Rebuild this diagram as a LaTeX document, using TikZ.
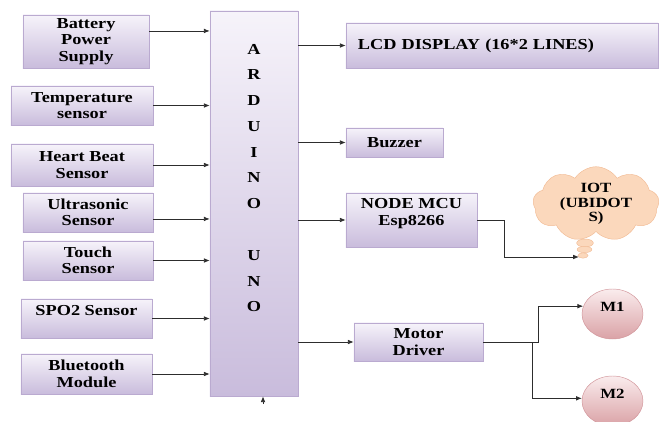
\documentclass[tikz,border=0pt]{standalone}
\usepackage{fontspec}
\setmainfont{Liberation Serif}[FakeStretch=1.2]
\usepackage{tikz}
\usetikzlibrary{shapes.geometric, shapes.symbols, arrows.meta, shadows}
\definecolor{boxtop}{RGB}{246,243,250}
\definecolor{boxbot}{RGB}{201,188,220}
\definecolor{boxline}{RGB}{186,170,208}
\definecolor{motortop}{RGB}{250,236,237}
\definecolor{motorbot}{RGB}{218,162,166}
\definecolor{motorline}{RGB}{210,150,155}
\definecolor{cloudfill}{RGB}{251,216,188}
\definecolor{cloudline}{RGB}{242,188,150}
\definecolor{wire}{RGB}{45,45,45}

\begin{document}
\begin{tikzpicture}[x=0.03cm, y=-0.03cm,
  blk/.style={draw=boxline, top color=boxtop, bottom color=boxbot, align=center, inner sep=1pt,
    font=\fontsize{13}{14}\selectfont\bfseries,
    drop shadow={shadow xshift=1.2pt, shadow yshift=-1.2pt, fill=black!30}},
  motor/.style={ellipse, draw=motorline, top color=motortop, bottom color=motorbot, inner sep=0pt,
    minimum width=1.83cm, minimum height=1.5cm, align=center, font=\fontsize{12}{13}\selectfont\bfseries},
  puff/.style={ellipse, draw=cloudline, fill=cloudfill, inner sep=0pt},
  arr/.style={draw=wire, line width=0.7pt, -{Latex[length=5pt,width=4pt]}}]
\useasboundingbox (0,0) rectangle (659,422);

\node[blk, minimum width=3.78cm, minimum height=1.59cm] (bat) at (86,41.5) {Battery\\Power\\Supply};
\node[blk, minimum width=4.26cm, minimum height=1.17cm] (temp) at (82,105.5) {Temperature\\sensor};
\node[blk, minimum width=4.26cm, minimum height=1.26cm] (heart) at (82,165) {Heart Beat\\Sensor};
\node[blk, minimum width=3.9cm, minimum height=1.17cm] (ultra) at (88,212.5) {Ultrasonic\\Sensor};
\node[blk, minimum width=3.9cm, minimum height=1.17cm] (touch) at (88,260.5) {Touch\\Sensor};
\node[blk, minimum width=3.93cm, minimum height=1.17cm] (spo) at (86.5,318.5) {SPO2 Sensor\\\mbox{}};
\node[blk, minimum width=3.93cm, minimum height=1.2cm] (blue) at (86.5,374) {Bluetooth\\Module};

\node[blk, minimum width=2.64cm, minimum height=11.55cm] (ard) at (254,203.5) {};
\node[font=\fontsize{13}{22}\selectfont\bfseries, align=center] (ardtxt) at (254,178)
  {A\\R\\D\\U\\I\\N\\O\\[22pt]U\\N\\O};

\node[blk, minimum height=1.35cm, text width=8.64cm, inner xsep=0.36cm, align=left] (lcd) at (502,45.5) {\raisebox{-3.5pt}{LCD DISPLAY (16*2 LINES)}};
\node[blk, minimum width=2.91cm, minimum height=0.87cm] (buz) at (394.5,142.5) {Buzzer};
\node[blk, minimum width=3.93cm, minimum height=1.62cm] (mcu) at (411.5,220) {NODE MCU\\Esp8266\\\mbox{}};
\node[blk, minimum width=3.87cm, minimum height=1.14cm] (mot) at (418.5,342) {Motor\\Driver};

\node[cloud, cloud puffs=9, cloud puff arc=115, aspect=1.75, draw=cloudline, fill=cloudfill,
  minimum width=3.78cm, minimum height=2.16cm, inner sep=0pt, align=center,
  font=\fontsize{12}{12.5}\selectfont\bfseries] (iot) at (596,204) {IOT\\(UBIDOT\\S)};
\node[puff, minimum width=0.5cm, minimum height=0.24cm] (puffa) at (585,243) {};
\node[puff, minimum width=0.44cm, minimum height=0.19cm] (puffb) at (584.5,249.5) {};
\node[puff, minimum width=0.3cm, minimum height=0.16cm] (puffc) at (583,255.5) {};
\coordinate (iotin) at (579,257);

\node[motor] (m1) at (612.5,314) {M1\\\mbox{}};
\node[motor] (m2) at (612.5,401) {M2\\\mbox{}};

\coordinate (batout) at ([yshift=9pt]bat.east);
\coordinate (ultraout) at ([yshift=-5.5pt]ultra.east);
\draw[arr] (batout) -- (batout -| ard.west);
\draw[arr] (temp.east) -- (temp.east -| ard.west);
\draw[arr] (heart.east) -- (heart.east -| ard.west);
\draw[arr] (ultraout) -- (ultraout -| ard.west);
\draw[arr] (touch.east) -- (touch.east -| ard.west);
\draw[arr] (spo.east) -- (spo.east -| ard.west);
\draw[arr] (blue.east) -- (blue.east -| ard.west);

\coordinate (pwr) at (263,404);
\draw[arr] (pwr) -- (pwr |- ard.south);

\draw[arr] (ard.east |- lcd.west) -- (lcd.west);
\draw[arr] (ard.east |- buz.west) -- (buz.west);
\draw[arr] (ard.east |- mcu.west) -- (mcu.west);
\draw[arr] (ard.east |- mot.west) -- (mot.west);

\draw[arr] (mcu.east) -- ++(27,0) |- (iotin);
\draw[arr] (mot.east) -- ++(55,0) |- (m1.165);
\draw[arr] (mot.east) -- ++(49,0) |- (m2.175);
\end{tikzpicture}
\end{document}
